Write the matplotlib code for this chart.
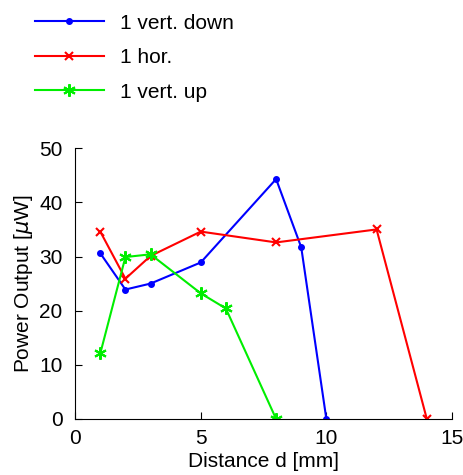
import numpy as np
import matplotlib.pyplot as plt

plt.rcParams['font.family'] = ['Liberation Sans', 'DejaVu Sans']

# data
d_down = [1, 2, 3, 5, 8, 9, 10]
p_down = [30.6, 23.9, 25.0, 28.9, 44.3, 31.7, 0]
d_hor = [1, 2, 3, 5, 8, 12, 14]
p_hor = [34.6, 25.9, 30.1, 34.6, 32.6, 35.0, 0]
d_up = [1, 2, 3, 5, 6, 8]
p_up = [12.1, 29.9, 30.4, 23.2, 20.4, 0]

fig = plt.figure(figsize=(4.64, 4.75), dpi=100)
ax = fig.add_axes([0.162, 0.118, 0.812, 0.570])

ax.plot(d_down, p_down, 'b.-', markersize=8, lw=1.5, label='1 vert. down')
ax.plot(d_hor, p_hor, 'rx-', markersize=6, mew=1.5, lw=1.5, label='1 hor.')
ax.plot(d_up, p_up, '-', color='#00ee00', marker=(6, 2, 0), markersize=9, mew=1.5, lw=1.5, label='1 vert. up')

ax.set_xlim(0, 15)
ax.set_ylim(0, 50)
ax.set_xticks([0, 5, 10, 15])
ax.set_yticks([0, 10, 20, 30, 40, 50])
ax.tick_params(direction='in', length=5, labelsize=15)
ax.tick_params(axis='y', pad=9)
ax.tick_params(axis='x', pad=7)
ax.spines['top'].set_visible(False)
ax.spines['right'].set_visible(False)
ax.set_xlabel('Distance d [mm]', fontsize=15, labelpad=3)
ax.set_ylabel(r'Power Output [$\mu$W]', fontsize=15, labelpad=3)

fig.legend(loc='upper left', bbox_to_anchor=(0.035, 1.011), frameon=False,
           fontsize=15, handlelength=3.3, labelspacing=0.75)

fig.savefig('out.png', dpi=100)
